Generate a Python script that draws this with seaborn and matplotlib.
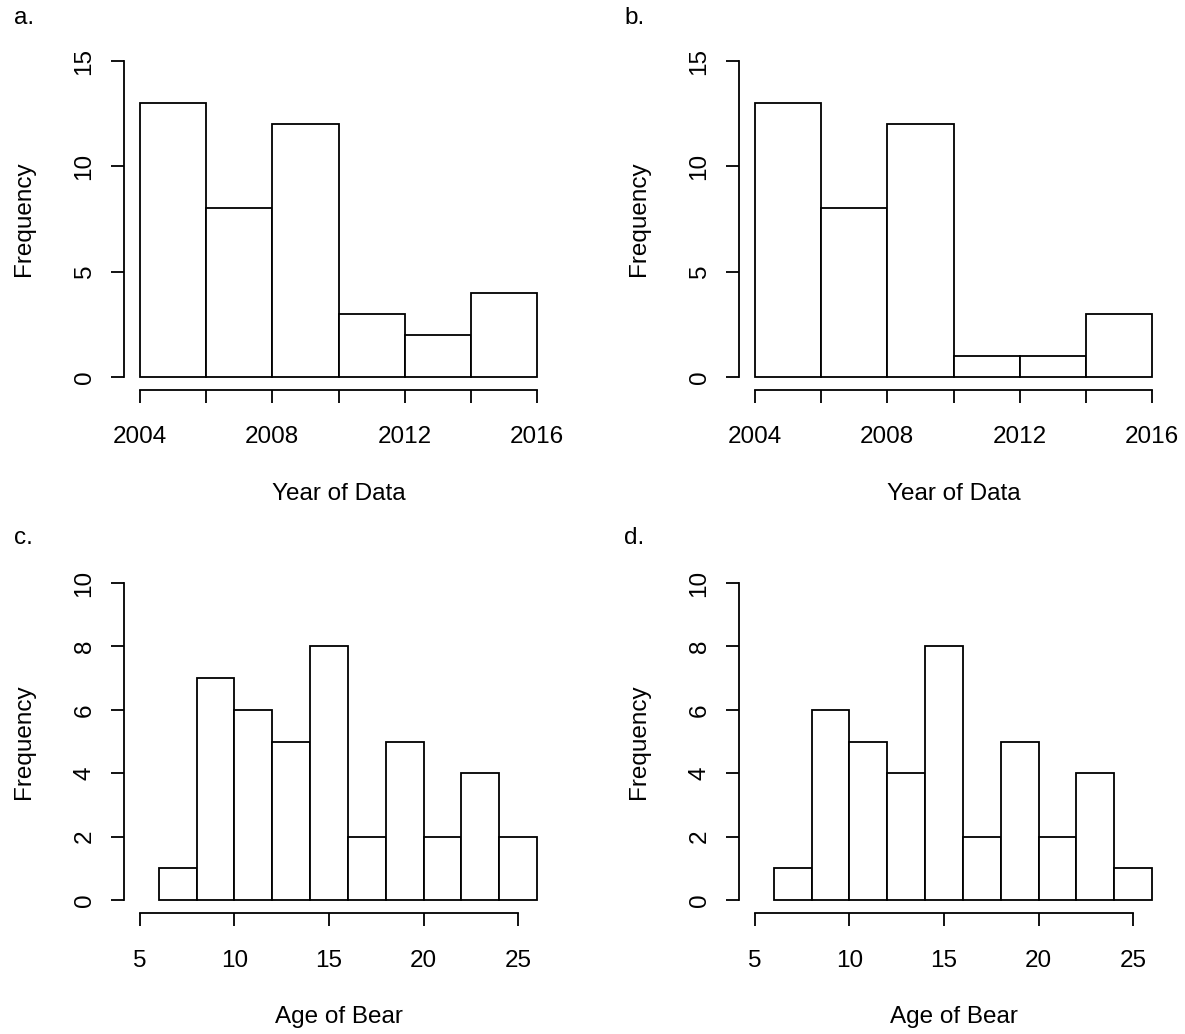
import numpy as np
import pandas as pd
import matplotlib
matplotlib.use("Agg")
import matplotlib.pyplot as plt
import seaborn as sns

# histogramas: bordas das classes e contagens
year_edges = [2004, 2006, 2008, 2010, 2012, 2014, 2016]
year_counts_a = [13, 8, 12, 3, 2, 4]
year_counts_b = [13, 8, 12, 1, 1, 3]

age_edges = [6, 8, 10, 12, 14, 16, 18, 20, 22, 24, 26]
age_counts_c = [1, 7, 6, 5, 8, 2, 5, 2, 4, 2]
age_counts_d = [1, 6, 5, 4, 8, 2, 5, 2, 4, 1]

year_ticks = [2004, 2006, 2008, 2010, 2012, 2014, 2016]
year_ticklabels = ["2004", "", "2008", "", "2012", "", "2016"]
age_ticks = [5, 10, 15, 20, 25]
age_ticklabels = ["5", "10", "15", "20", "25"]
year_yticks = [0, 5, 10, 15]
age_yticks = [0, 2, 4, 6, 8, 10]

panel_letters = ["a.", "b.", "c.", "d."]

sns.set_style("ticks")
plt.rcParams["font.family"] = ["Liberation Sans", "DejaVu Sans"]
plt.rcParams["text.color"] = "black"
plt.rcParams["axes.labelcolor"] = "black"

W, H = 1185, 1034
fig = plt.figure(figsize=(W / 100, H / 100), dpi=100)
FS = 17.5
LW = 1.3


def painel(rect, edges, counts, xlim, ylim, xticks, xticklabels, yticks, xlabel, xbounds):
    ax = fig.add_axes(rect)
    e = np.array(edges, dtype=float)
    df = pd.DataFrame({"x": (e[:-1] + e[1:]) / 2, "n": counts})
    sns.histplot(data=df, x="x", weights="n", bins=list(edges), ax=ax,
                 facecolor="white", edgecolor="black", linewidth=LW, alpha=1)
    ax.set_xlim(*xlim)
    ax.set_ylim(*ylim)
    ax.set_xticks(xticks)
    ax.set_xticklabels(xticklabels, fontsize=FS)
    ax.set_yticks(yticks)
    ax.set_yticklabels([str(v) for v in yticks], fontsize=FS, rotation=90, va="center")
    ax.spines["top"].set_visible(False)
    ax.spines["right"].set_visible(False)
    ax.spines["left"].set_bounds(yticks[0], yticks[-1])
    ax.spines["bottom"].set_bounds(*xbounds)
    for s in ["left", "bottom"]:
        ax.spines[s].set_linewidth(LW)
        ax.spines[s].set_color("black")
    ax.tick_params(axis="both", direction="out", length=9.5, width=LW, colors="black")
    ax.tick_params(axis="x", pad=17)
    ax.tick_params(axis="y", pad=11)
    ax.set_xlabel(xlabel, fontsize=FS, labelpad=25)
    ax.set_ylabel("Frequency", fontsize=FS, labelpad=28)
    ax.set_facecolor("white")
    return ax


left_a = 124 / W
dx = 615 / W
wid = 429 / W
bot_top = 1 - 389.6 / H
hgt_top = 341.2 / H
bot_low = 1 - 912.7 / H
hgt_low = 342.4 / H

painel([left_a, bot_top, wid, hgt_top], year_edges, year_counts_a,
       (2003.52, 2016.48), (-0.6, 15.6), year_ticks, year_ticklabels, year_yticks,
       "Year of Data", (2004, 2016))
painel([left_a + dx, bot_top, wid, hgt_top], year_edges, year_counts_b,
       (2003.52, 2016.48), (-0.6, 15.6), year_ticks, year_ticklabels, year_yticks,
       "Year of Data", (2004, 2016))
painel([left_a, bot_low, wid, hgt_low], age_edges, age_counts_c,
       (4.16, 26.84), (-0.4, 10.4), age_ticks, age_ticklabels, age_yticks,
       "Age of Bear", (5, 25))
painel([left_a + dx, bot_low, wid, hgt_low], age_edges, age_counts_d,
       (4.16, 26.84), (-0.4, 10.4), age_ticks, age_ticklabels, age_yticks,
       "Age of Bear", (5, 25))

# letras dos paineis
pos_letras = [(14, 24), (624, 24), (14, 544), (624, 544)]
for letra, (px, py) in zip(panel_letters, pos_letras):
    fig.text(px / W, 1 - py / H, letra, fontsize=FS, ha="left", va="baseline")

fig.savefig("out.png", dpi=100, facecolor="white")
